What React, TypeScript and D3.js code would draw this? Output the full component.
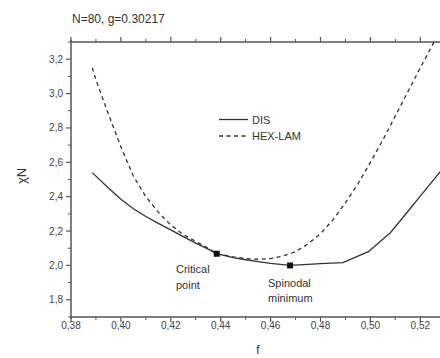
import React from "react";
import * as d3 from "d3";

const title = "N=80, g=0.30217";
const xLabel = "f";
const yLabel = "χN";

const xMajorTicks = [0.38, 0.4, 0.42, 0.44, 0.46, 0.48, 0.5, 0.52];
const xTickLabels = ["0,38", "0,40", "0,42", "0,44", "0,46", "0,48", "0,50", "0,52"];
const xMinorTicks = [0.39, 0.41, 0.43, 0.45, 0.47, 0.49, 0.51, 0.53];
const yMajorTicks = [1.8, 2.0, 2.2, 2.4, 2.6, 2.8, 3.0, 3.2];
const yTickLabels = ["1,8", "2,0", "2,2", "2,4", "2,6", "2,8", "3,0", "3,2"];
const yMinorTicks = [1.7, 1.9, 2.1, 2.3, 2.5, 2.7, 2.9, 3.1, 3.3];

const disF = [0.3885, 0.395, 0.4, 0.405, 0.41, 0.415, 0.42, 0.425, 0.43, 0.435, 0.4384, 0.445, 0.45, 0.455, 0.46, 0.4678, 0.475, 0.48, 0.489, 0.4992, 0.508, 0.515, 0.52, 0.528, 0.531];
const disChiN = [2.54, 2.45, 2.385, 2.33, 2.285, 2.245, 2.207, 2.168, 2.13, 2.095, 2.068, 2.045, 2.033, 2.022, 2.012, 2.0, 2.006, 2.01, 2.016, 2.08, 2.19, 2.314, 2.403, 2.545, 2.6];

const hexF = [0.3885, 0.39, 0.395, 0.4, 0.405, 0.41, 0.415, 0.42, 0.425, 0.43, 0.435, 0.4384, 0.445, 0.45, 0.455, 0.46, 0.465, 0.47, 0.475, 0.48, 0.485, 0.49, 0.495, 0.5, 0.505, 0.51, 0.515, 0.52, 0.5255];
const hexChiN = [3.15, 3.08, 2.88, 2.69, 2.52, 2.4, 2.31, 2.235, 2.18, 2.14, 2.1, 2.068, 2.05, 2.04, 2.036, 2.04, 2.055, 2.08, 2.125, 2.185, 2.265, 2.365, 2.475, 2.6, 2.73, 2.87, 3.01, 3.15, 3.3];

const markerF = [0.4384, 0.4678];
const markerChiN = [2.068, 2.0];

const legendNames = ["DIS", "HEX-LAM"];

export default function App() {
  const W = 440, H = 358;
  const x = d3.scaleLinear().domain([0.38, 0.53]).range([71, 445.25]);
  const y = d3.scaleLinear().domain([1.7, 3.3]).range([317, 42]);
  const mk = (fs: number[], vs: number[]) =>
    d3.line<number>().x((f) => x(f)).y((_, i) => y(vs[i]))(fs) || "";
  const axisColor = "#555";
  const ink = "#333";
  const font = "Liberation Sans, Arial, sans-serif";
  const yTop = y(3.3);
  const yBot = y(1.7);
  const xL = x(0.38);
  return (
    <svg width={W} height={H} style={{ position: "absolute", left: 0, top: 0, background: "#fff" }} fontFamily={font}>
      <defs>
        <clipPath id="plot">
          <rect x={xL} y={yTop} width={W - xL} height={yBot - yTop} />
        </clipPath>
      </defs>
      <text x={72} y={23} fontSize={12} fill={ink}>{title}</text>
      <line x1={xL} x2={W} y1={yTop} y2={yTop} stroke={axisColor} strokeWidth={1.5} />
      <line x1={xL} x2={W} y1={yBot} y2={yBot} stroke={axisColor} strokeWidth={1.5} />
      <line x1={xL} x2={xL} y1={yTop - 2} y2={yBot + 2} stroke={axisColor} strokeWidth={1.5} />
      {xMajorTicks.map((t, i) => (
        <g key={"xm" + i}>
          <line x1={x(t)} x2={x(t)} y1={yBot} y2={yBot + 5} stroke={axisColor} strokeWidth={1.2} />
          <line x1={x(t)} x2={x(t)} y1={yTop} y2={yTop - 5} stroke={axisColor} strokeWidth={1.2} />
          <text x={x(t)} y={328.5} fontSize={10} fill="#444" textAnchor="middle">{xTickLabels[i]}</text>
        </g>
      ))}
      {xMinorTicks.map((t, i) => (
        <g key={"xn" + i}>
          <line x1={x(t)} x2={x(t)} y1={yBot} y2={yBot + 3} stroke={axisColor} strokeWidth={1} />
          <line x1={x(t)} x2={x(t)} y1={yTop} y2={yTop - 3} stroke={axisColor} strokeWidth={1} />
        </g>
      ))}
      {yMajorTicks.map((t, i) => (
        <g key={"ym" + i}>
          <line x1={xL} x2={xL - 5} y1={y(t)} y2={y(t)} stroke={axisColor} strokeWidth={1.2} />
          <text x={xL - 8} y={y(t) + 3.5} fontSize={10} fill="#444" textAnchor="end">{yTickLabels[i]}</text>
        </g>
      ))}
      {yMinorTicks.map((t, i) => (
        <line key={"yn" + i} x1={xL} x2={xL - 3} y1={y(t)} y2={y(t)} stroke={axisColor} strokeWidth={1} />
      ))}
      <text x={258} y={354} fontSize={12} fill={ink} textAnchor="middle">{xLabel}</text>
      <text transform={`translate(26,176) rotate(-90)`} fontSize={13} fill={ink} textAnchor="middle">{yLabel}</text>
      <g clipPath="url(#plot)">
        <path d={mk(disF, disChiN)} fill="none" stroke={ink} strokeWidth={1.3} />
        <path d={mk(hexF, hexChiN)} fill="none" stroke={ink} strokeWidth={1.3} strokeDasharray="4,3.5" />
      </g>
      {markerF.map((f, i) => (
        <rect key={"mk" + i} x={x(f) - 3} y={y(markerChiN[i]) - 3} width={6} height={6} fill="#111" />
      ))}
      <line x1={219} x2={248} y1={119.5} y2={119.5} stroke={ink} strokeWidth={1.3} />
      <text x={252} y={123.5} fontSize={11} fill={ink}>{legendNames[0]}</text>
      <line x1={219} x2={248} y1={136} y2={136} stroke={ink} strokeWidth={1.3} strokeDasharray="4,3.5" />
      <text x={252} y={140} fontSize={11} fill={ink}>{legendNames[1]}</text>
      <text x={176} y={273} fontSize={11} fill={ink}>Critical</text>
      <text x={176} y={289} fontSize={11} fill={ink}>point</text>
      <text x={268} y={286.5} fontSize={11} fill={ink}>Spinodal</text>
      <text x={268} y={302} fontSize={11} fill={ink}>minimum</text>
    </svg>
  );
}
